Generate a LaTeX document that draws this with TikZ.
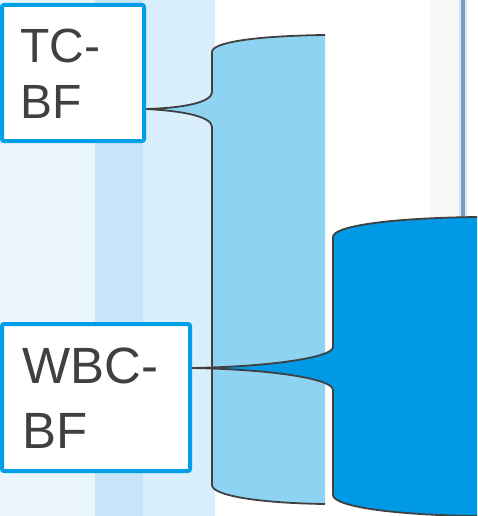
\documentclass[tikz,border=0pt]{standalone}
\usepackage{fontspec}
\setmainfont{Liberation Sans}
\definecolor{bgA}{HTML}{EAF6FC}
\definecolor{bgB}{HTML}{C6E5F8}
\definecolor{bgC}{HTML}{D9EFFB}
\definecolor{faint}{HTML}{F8F7F8}
\definecolor{rulec}{HTML}{7B9BC2}
\definecolor{ruleedge}{HTML}{D6E6F4}
\definecolor{lightblue}{HTML}{8FD3F2}
\definecolor{darkblue}{HTML}{0099E6}
\definecolor{boxblue}{HTML}{009FE8}
\definecolor{ink}{HTML}{404040}
\tikzset{
  outline/.style={draw=ink, line width=1.8pt},
  tbox/.style={draw=boxblue, line width=4pt, fill=white, rounded corners=2pt, outer sep=0pt, inner sep=0pt, anchor=north west},
  lbl/.style={text=ink, inner sep=0pt, anchor=base west}
}
\begin{document}
\begin{tikzpicture}[x=1pt,y=-1pt]
\useasboundingbox (0,0) rectangle (477,516);
% background strips
\fill[bgA] (0,0) rectangle (95,516);
\fill[bgB] (95,0) rectangle (143,516);
\fill[bgC] (143,0) rectangle (215,516);
\fill[faint] (430,0) rectangle (460,217);
\fill[ruleedge] (459,0) rectangle (467,217);
\fill[rulec] (461,0) rectangle (464.5,217);
% light bracket shape
\fill[lightblue] (325,35) .. controls (250,36) and (212,43) .. (212,52) -- (212,92)
  .. controls (212,102) and (185,108) .. (146,109)
  .. controls (185,111) and (212,117) .. (212,127) -- (212,485)
  .. controls (212,495) and (255,503) .. (325,504) -- cycle;
\draw[outline] (325,35) .. controls (250,36) and (212,43) .. (212,52) -- (212,92)
  .. controls (212,102) and (185,108) .. (146,109)
  .. controls (185,111) and (212,117) .. (212,127) -- (212,485)
  .. controls (212,495) and (255,503) .. (325,504);
% dark bracket shape
\fill[darkblue] (477,217) .. controls (390,218) and (333,226) .. (333,237) -- (333,347)
  .. controls (333,358) and (265,367) .. (190,368)
  .. controls (265,369) and (333,378) .. (333,390) -- (333,495)
  .. controls (333,506) and (390,515) .. (477,516) -- cycle;
\draw[outline] (477,217) .. controls (390,218) and (333,226) .. (333,237) -- (333,347)
  .. controls (333,358) and (265,367) .. (190,368)
  .. controls (265,369) and (333,378) .. (333,390) -- (333,495)
  .. controls (333,506) and (390,515) .. (477,516);
% boxes
\node[tbox, minimum width=142pt, minimum height=136pt] (tcbox) at (2,5) {};
\node[tbox, minimum width=188pt, minimum height=147pt] (wbcbox) at (2,324) {};
% labels
\node[lbl, font=\fontsize{48}{48}\selectfont] (tc1) at (20,63) {TC-};
\node[lbl, font=\fontsize{48}{48}\selectfont] (tc2) at (20,118.5) {BF};
\node[lbl, font=\fontsize{51}{51}\selectfont] (wbc1) at (22,383) {WBC-};
\node[lbl, font=\fontsize{51}{51}\selectfont] (wbc2) at (22,448) {BF};
\end{tikzpicture}
\end{document}
